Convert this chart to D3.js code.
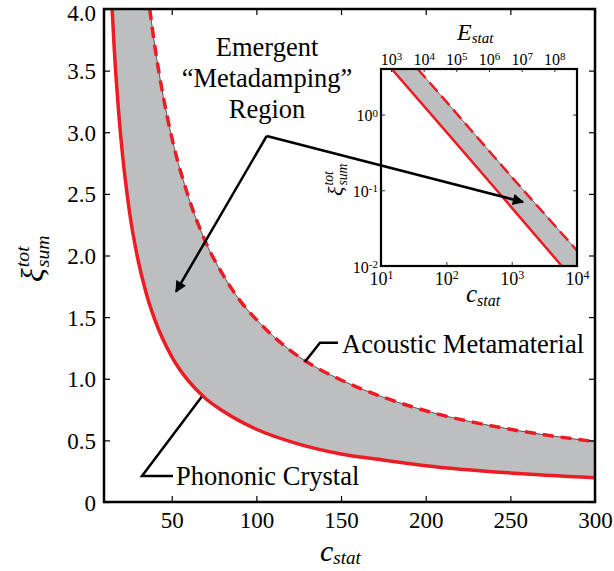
<!DOCTYPE html>
<html>
<head>
<meta charset="utf-8">
<script src="https://cdn.jsdelivr.net/npm/d3@7"></script>
<style>
body { margin: 0; background: #fff; }
</style>
</head>
<body>
<script>
// valori
var cStatPhC = [14.8, 16, 18, 20, 25, 30, 35, 40, 50, 60, 70, 80, 100, 125, 150, 175, 200, 250, 300];
var xiPhC = [4.0, 3.69, 3.28, 2.95, 2.36, 1.97, 1.69, 1.48, 1.18, 0.98, 0.84, 0.74, 0.59, 0.47, 0.39, 0.34, 0.295, 0.236, 0.197];
var cStatAM = [37, 40, 45, 50, 60, 70, 80, 90, 100, 125, 150, 175, 200, 250, 300];
var xiAM = [4.0, 3.7, 3.29, 2.96, 2.47, 2.11, 1.85, 1.64, 1.48, 1.18, 0.99, 0.85, 0.74, 0.59, 0.49];

// inset log-log
var insetCPhC = [14.6, 100, 1000, 5850];
var insetXiPhC = [4.0, 0.59, 0.059, 0.01];
var insetCAM = [36.5, 100, 1000, 10000];
var insetXiAM = [4.0, 1.48, 0.15, 0.016];

var xTicks = [50, 100, 150, 200, 250, 300];
var yTicks = [0, 0.5, 1.0, 1.5, 2.0, 2.5, 3.0, 3.5, 4.0];
var insetCTicks = [10, 100, 1000, 10000];
var insetXiTicks = [0.01, 0.1, 1];
var insetETicks = [1e3, 1e4, 1e5, 1e6, 1e7, 1e8];

var FONT = "'Liberation Serif', 'Times New Roman', Times, 'DejaVu Serif', serif";
var red = "#ed1c24";
var grey = "#bcbec0";

var svg = d3.select("body").append("svg")
	.attr("width", 614)
	.attr("height", 571)
	.style("font-family", FONT);

var defs = svg.append("defs");
defs.append("clipPath").attr("id", "mainClip")
	.append("rect").attr("x", 104).attr("y", 9).attr("width", 491).attr("height", 493);
defs.append("clipPath").attr("id", "insetClip")
	.append("rect").attr("x", 381).attr("y", 69).attr("width", 196).attr("height", 197);
defs.append("marker")
	.attr("id", "arrow")
	.attr("viewBox", "0 0 10 10")
	.attr("refX", 9).attr("refY", 5)
	.attr("markerWidth", 6).attr("markerHeight", 4.5)
	.attr("markerUnits", "strokeWidth")
	.attr("orient", "auto")
	.append("path").attr("d", "M0,0 L10,5 L0,10 Z").attr("fill", "#000");

// grafico principale
var x = d3.scaleLinear().domain([10, 300]).range([104, 595]);
var y = d3.scaleLinear().domain([0, 4]).range([502, 9]);

var phc = cStatPhC.map(function (c, i) { return [c, xiPhC[i]]; });
var am = cStatAM.map(function (c, i) { return [c, xiAM[i]]; });

var line = d3.line()
	.x(function (d) { return x(d[0]); })
	.y(function (d) { return y(d[1]); })
	.curve(d3.curveMonotoneX);

var main = svg.append("g").attr("clip-path", "url(#mainClip)");

// regione grigia: dalla curva inferiore alla superiore
var areaPath = line(phc) + "L" + line(am.slice().reverse()).slice(1) + "Z";
main.append("path")
	.attr("d", areaPath)
	.attr("fill", grey)
	.attr("stroke", "none");

main.append("path")
	.attr("d", line(am))
	.attr("fill", "none")
	.attr("stroke", "#555")
	.attr("stroke-width", 1);

main.append("path")
	.attr("d", line(am))
	.attr("fill", "none")
	.attr("stroke", red)
	.attr("stroke-width", 3.5)
	.attr("stroke-dasharray", "11,7");

main.append("path")
	.attr("d", line(phc))
	.attr("fill", "none")
	.attr("stroke", red)
	.attr("stroke-width", 3.5);

// assi
var fmtY = function (d) { return d === 0 ? "0" : d3.format(".1f")(d); };

var gx = svg.append("g").attr("transform", "translate(0,502)")
	.call(d3.axisBottom(x).tickValues(xTicks).tickSize(-6).tickPadding(10));
var gxTop = svg.append("g").attr("transform", "translate(0,9)")
	.call(d3.axisTop(x).tickValues(xTicks).tickSize(-6).tickFormat(""));
var gy = svg.append("g").attr("transform", "translate(104,0)")
	.call(d3.axisLeft(y).tickValues(yTicks).tickSize(-6).tickPadding(8).tickFormat(fmtY));
var gyRight = svg.append("g").attr("transform", "translate(595,0)")
	.call(d3.axisRight(y).tickValues(yTicks).tickSize(-6).tickFormat(""));

[gx, gxTop, gy, gyRight].forEach(function (g) {
	g.attr("font-family", null);
	g.select(".domain").remove();
	g.selectAll(".tick line").attr("stroke", "#000").attr("stroke-width", 1.2);
	g.selectAll("text").style("font-size", "23px").attr("fill", "#000");
});
gy.selectAll("text").attr("dy", function (d) { return d === 4 ? "0.5em" : "0.35em"; });

svg.append("rect")
	.attr("x", 104).attr("y", 9).attr("width", 491).attr("height", 493)
	.attr("fill", "none").attr("stroke", "#000").attr("stroke-width", 2.5);

// etichetta asse x
var xl = svg.append("text").attr("x", 320).attr("y", 561).style("font-size", "30px").style("font-style", "italic");
xl.append("tspan").text("c");
xl.append("tspan").attr("dy", 3).style("font-size", "19px").text("stat");

// etichetta asse y (ξ con apice e pedice)
function xiLabel(g, size) {
	var t = g.append("text").style("font-size", size + "px").style("font-style", "italic").text("ξ");
	var w = t.node().getComputedTextLength();
	g.append("text").attr("x", w + 1).attr("y", -size * 0.45)
		.style("font-size", (size * 0.62) + "px").style("font-style", "italic").text("tot");
	g.append("text").attr("x", w + 1).attr("y", size * 0.18)
		.style("font-size", (size * 0.62) + "px").style("font-style", "italic").text("sum");
}
var yl = svg.append("g").attr("transform", "translate(43,282) rotate(-90)");
xiLabel(yl, 32);

// inset
var ix = d3.scaleLog().domain([10, 1e4]).range([381, 577]);
var iy = d3.scaleLog().domain([0.01, 4]).range([266, 69]);
var iE = d3.scaleLog().domain([494, 4.94e8]).range([381, 577]);

svg.append("rect")
	.attr("x", 381).attr("y", 69).attr("width", 196).attr("height", 197)
	.attr("fill", "#fff");

var iphc = insetCPhC.map(function (c, i) { return [c, insetXiPhC[i]]; });
var iam = insetCAM.map(function (c, i) { return [c, insetXiAM[i]]; });

var iline = d3.line()
	.x(function (d) { return ix(d[0]); })
	.y(function (d) { return iy(d[1]); });

var inset = svg.append("g").attr("clip-path", "url(#insetClip)");
var iArea = iline(iphc.concat([[1e4, 0.01]]).concat(iam.slice().reverse())) + "Z";
inset.append("path").attr("d", iArea).attr("fill", grey);
inset.append("path").attr("d", iline(iam)).attr("fill", "none").attr("stroke", "#555").attr("stroke-width", 0.8);
inset.append("path").attr("d", iline(iam)).attr("fill", "none")
	.attr("stroke", red).attr("stroke-width", 2.5).attr("stroke-dasharray", "12,6");
inset.append("path").attr("d", iline(iphc)).attr("fill", "none")
	.attr("stroke", red).attr("stroke-width", 2.5);

function powLabel(sel, supSize) {
	sel.each(function (d) {
		var t = d3.select(this).text("");
		var e = Math.round(Math.log10(d));
		t.append("tspan").text("10");
		t.append("tspan").attr("dy", "-0.45em").style("font-size", supSize + "px").text(e);
	});
}

var igx = svg.append("g").attr("transform", "translate(0,266)")
	.call(d3.axisBottom(ix).tickValues(insetCTicks).tickSize(-4).tickPadding(6));
var igy = svg.append("g").attr("transform", "translate(381,0)")
	.call(d3.axisLeft(iy).tickValues(insetXiTicks).tickSize(-4).tickPadding(3));
var igE = svg.append("g").attr("transform", "translate(0,69)")
	.call(d3.axisTop(iE).tickValues(insetETicks).tickSize(-3).tickPadding(4));
var igR = svg.append("g").attr("transform", "translate(577,0)")
	.call(d3.axisRight(iy).tickValues(insetXiTicks).tickSize(-4).tickFormat(""));

[igx, igy, igE, igR].forEach(function (g) {
	g.attr("font-family", null);
	g.select(".domain").remove();
	g.selectAll(".tick line").attr("stroke", "#000").attr("stroke-width", 0.8);
	g.selectAll("text").attr("fill", "#000");
});
igx.selectAll("text").style("font-size", "18px");
igy.selectAll("text").style("font-size", "16px");
igE.selectAll("text").style("font-size", "16px");
powLabel(igx.selectAll(".tick text"), 12);
powLabel(igy.selectAll(".tick text"), 11);
powLabel(igE.selectAll(".tick text"), 11);
igy.selectAll(".tick text").attr("dy", "0.4em");

svg.append("rect")
	.attr("x", 381).attr("y", 69).attr("width", 196).attr("height", 197)
	.attr("fill", "none").attr("stroke", "#000").attr("stroke-width", 2.2);

var icl = svg.append("text").attr("x", 466).attr("y", 302).style("font-size", "25px").style("font-style", "italic");
icl.append("tspan").text("c");
icl.append("tspan").attr("dy", 4).style("font-size", "16px").text("stat");

var iel = svg.append("text").attr("x", 457).attr("y", 40).style("font-size", "24px").style("font-style", "italic");
iel.append("tspan").text("E");
iel.append("tspan").attr("dy", 3).style("font-size", "15px").text("stat");

var iyl = svg.append("g").attr("transform", "translate(343,196) rotate(-90)");
xiLabel(iyl, 22);

// annotazioni
var ann = svg.append("text").attr("text-anchor", "middle").style("font-size", "26.5px");
ann.append("tspan").attr("x", 267).attr("y", 56).text("Emergent");
ann.append("tspan").attr("x", 267).attr("y", 87).text("\u201cMetadamping\u201d");
ann.append("tspan").attr("x", 267).attr("y", 118).text("Region");

svg.append("line")
	.attr("x1", 266.7).attr("y1", 136).attr("x2", 176).attr("y2", 291.7)
	.attr("stroke", "#000").attr("stroke-width", 2.5).attr("marker-end", "url(#arrow)");
svg.append("line")
	.attr("x1", 266.7).attr("y1", 136).attr("x2", 523).attr("y2", 202)
	.attr("stroke", "#000").attr("stroke-width", 2.5).attr("marker-end", "url(#arrow)");

svg.append("polyline")
	.attr("points", [[338, 342.7], [320, 342.7], [305, 361.7]].join(" "))
	.attr("fill", "none").attr("stroke", "#000").attr("stroke-width", 2.5);
svg.append("text").attr("x", 342).attr("y", 353).style("font-size", "26.5px").text("Acoustic Metamaterial");

svg.append("polyline")
	.attr("points", [[173, 476], [142, 476], [201.7, 396.7]].join(" "))
	.attr("fill", "none").attr("stroke", "#000").attr("stroke-width", 2.5);
svg.append("text").attr("x", 176).attr("y", 485).style("font-size", "26.5px").text("Phononic Crystal");

// stesso carattere per tutti i testi
svg.selectAll("text").style("font-family", FONT);
</script>
</body>
</html>
